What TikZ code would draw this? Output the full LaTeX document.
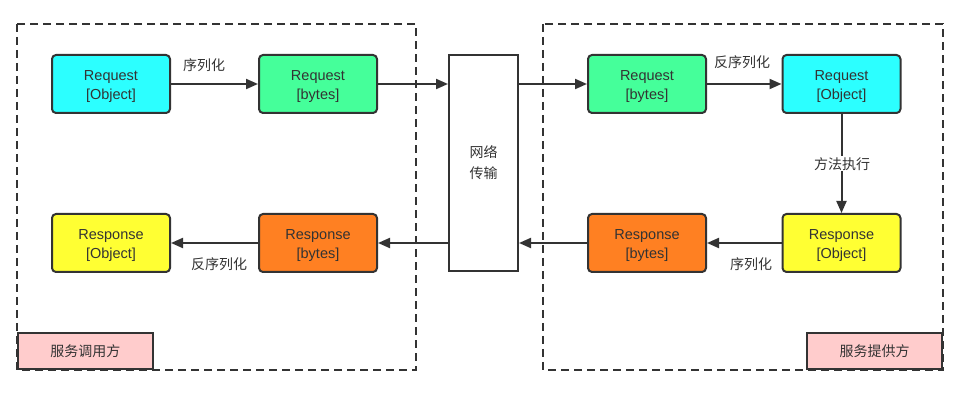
\documentclass[tikz,border=0pt]{standalone}
\usepackage{fontspec}
\setmainfont{Liberation Sans}
\newfontfamily\cjk{Noto Sans CJK SC}
\usetikzlibrary{arrows.meta}
\definecolor{ln}{HTML}{333333}
\definecolor{cyanc}{HTML}{2CFFFF}
\definecolor{greenc}{HTML}{45FF9A}
\definecolor{yellowc}{HTML}{FFFF33}
\definecolor{orangec}{HTML}{FF8022}
\definecolor{pinkc}{HTML}{FFCCCC}
\newcommand\tlstrut{\rule{0pt}{15pt}}
\tikzset{
  blk/.style={draw=ln, line width=2pt, rounded corners=4pt, minimum width=118pt, minimum height=58pt, align=center, font=\fontsize{14.5}{19}\selectfont, text=ln, inner sep=0pt},
  grp/.style={draw=ln, line width=1.8pt, dash pattern=on 8pt off 5pt},
  tag/.style={draw=ln, line width=1.8pt, fill=pinkc, minimum width=135pt, minimum height=36pt, font=\cjk\fontsize{14}{16}\selectfont, text=ln, inner sep=0pt},
  con/.style={draw=ln, line width=2pt, -{Triangle[length=12pt,width=10pt]}},
  lbl/.style={font=\cjk\fontsize{14}{16}\selectfont, text=ln, inner sep=1pt}
}
\begin{document}
\begin{tikzpicture}[x=1pt,y=-1pt]
\useasboundingbox (0,0) rectangle (972,411);
% group frames
\draw[grp] (17,24) rectangle (416,370);
\draw[grp] (543,24) rectangle (943,370);
\node[tag, anchor=south west] (caller) at (17,370) {服务调用方};
\node[tag, anchor=south east] (provider) at (943,370) {服务提供方};
% network
\node[draw=ln, line width=2pt, fill=white, minimum width=69pt, minimum height=216pt, inner sep=0pt, align=center, font=\cjk\fontsize{14}{21}\selectfont, text=ln] (net) at (483.5,163) {网络\\传输};
% left boxes
\node[blk, fill=cyanc] (lreqo) at (111,84) {\tlstrut Request\\{[}Object{]}};
\node[blk, fill=greenc] (lreqb) at (318,84) {\tlstrut Request\\{[}bytes{]}};
\node[blk, fill=yellowc] (lreso) at (111,243) {\tlstrut Response\\{[}Object{]}};
\node[blk, fill=orangec] (lresb) at (318,243) {\tlstrut Response\\{[}bytes{]}};
% right boxes
\node[blk, fill=greenc] (rreqb) at (647,84) {\tlstrut Request\\{[}bytes{]}};
\node[blk, fill=cyanc] (rreqo) at (841.5,84) {\tlstrut Request\\{[}Object{]}};
\node[blk, fill=orangec] (rresb) at (647,243) {\tlstrut Response\\{[}bytes{]}};
\node[blk, fill=yellowc] (rreso) at (841.5,243) {\tlstrut Response\\{[}Object{]}};
% connectors
\draw[con] (lreqo) -- (lreqb);
\draw[con] (lreqb.east) -- (lreqb.east -| net.west);
\draw[con] (rreqb.west -| net.east) -- (rreqb.west);
\draw[con] (rreqb) -- (rreqo);
\draw[con] (rreqo) -- (rreso);
\draw[con] (rreso) -- (rresb);
\draw[con] (rresb.west) -- (rresb.west -| net.east);
\draw[con] (lresb.east -| net.west) -- (lresb.east);
\draw[con] (lresb) -- (lreso);
% labels
\node[lbl] (l1) at (204,65) {序列化};
\node[lbl] (l2) at (742,62) {反序列化};
\node[lbl, fill=white] (l3) at (842,164) {方法执行};
\node[lbl] (l4) at (751,264) {序列化};
\node[lbl] (l5) at (219,264) {反序列化};
\end{tikzpicture}
\end{document}
